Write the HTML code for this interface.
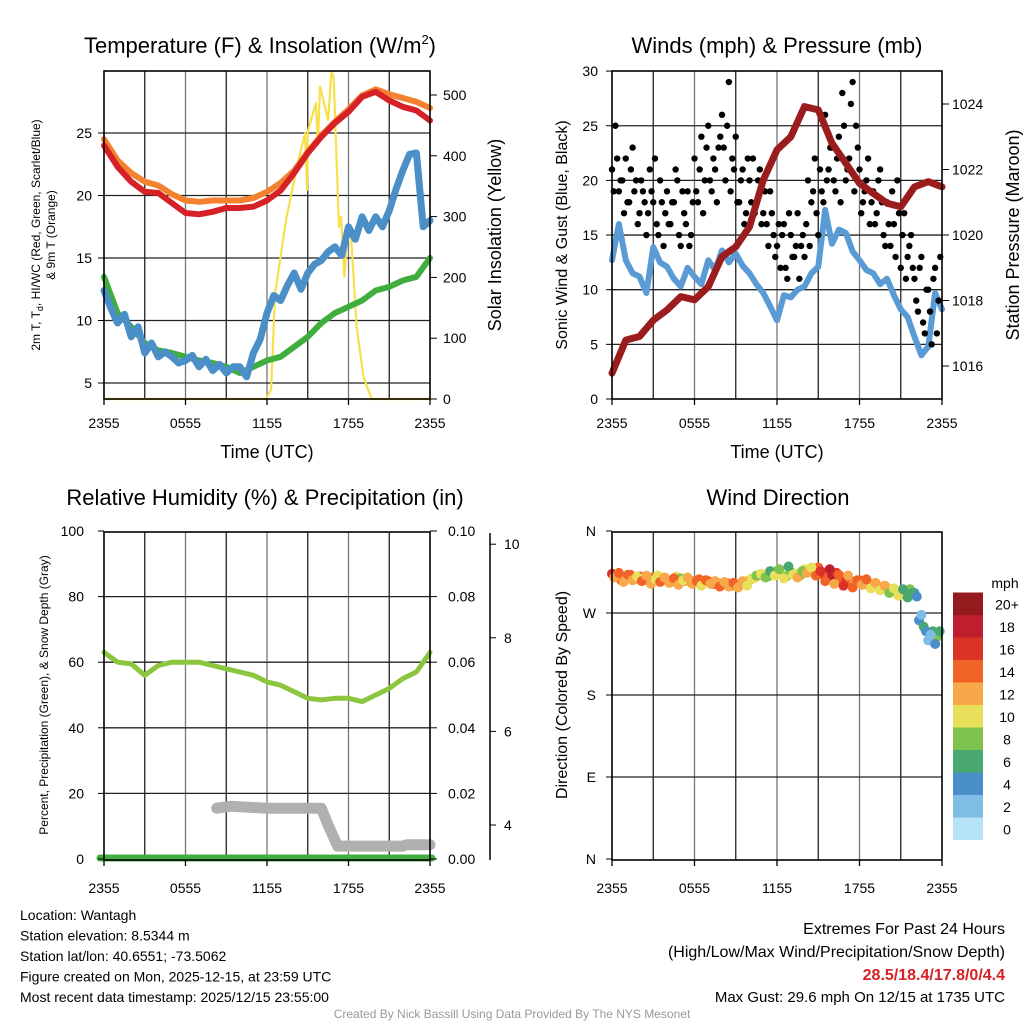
<!DOCTYPE html>
<html><head><meta charset="utf-8">
<style>
html,body{margin:0;padding:0;background:#fff;}
svg{display:block;font-family:"Liberation Sans",Arial,sans-serif;}
</style></head>
<body>
<svg id="c" width="1024" height="1024" viewBox="0 0 1024 1024"></svg>
<script>
// ---------- DATA ----------
const xTickLabels = ["2355","0555","1155","1755","2355"];
const tempRed = [24.0,22.3,21.1,20.3,20.2,19.4,18.6,18.5,18.7,19.0,19.0,19.1,19.6,20.4,21.8,23.4,24.7,25.8,26.7,27.9,28.3,27.6,27.1,26.8,26.0];
const tempOrange = [24.5,22.8,21.8,21.1,20.8,20.1,19.6,19.5,19.6,19.6,19.6,19.8,20.3,21.0,22.0,23.5,24.8,25.9,26.9,28.0,28.5,28.1,27.8,27.5,27.0];
const dewGreen = [13.5,10.6,9.5,8.2,7.6,7.4,7.1,6.8,6.6,6.3,5.8,6.3,6.8,7.1,7.9,8.7,9.8,10.6,11.1,11.6,12.4,12.7,13.2,13.5,15.0];
const hiBlue = [12.4,11,9.8,10.5,8.7,9.5,7.4,8.2,7.1,7.5,7.1,6.6,6.8,7.2,6.3,6.9,6.0,6.5,5.8,6.3,6.3,5.5,7.4,8.5,10.6,12,11.6,12.8,13.8,12.5,13.8,14.5,14.8,15.5,15.9,15.2,17.5,16.5,18.3,17.2,18.3,17.5,18.8,20.5,22,23.3,23.4,17.5,18];
const solarTimes = [0,11.9,12.3,12.6,13.4,14.2,14.8,14.95,15.0,15.6,15.75,15.9,16.5,16.75,16.9,17.3,17.45,17.7,17.9,18.2,18.6,19.1,19.7,24];
const solarVals  = [0,0,15,174,294,382,437,344,440,487,420,514,459,538,530,283,300,201,267,265,119,37,0,0];
const temp1Ticks = [5,10,15,20,25];
const solarTicks = [0,100,200,300,400,500];
const windBlue = [12.7,16.0,12.7,11.5,11.2,9.7,13.9,12.5,12.1,11.0,10.3,12.0,11.2,10.5,12.7,11.8,13.6,12.5,13.3,12.2,11.5,10.5,9.7,8.5,7.2,9.5,9.3,10.0,10.3,11.5,12.1,17.3,14.2,15.5,15.2,13.5,12.7,11.8,11.5,10.5,11.0,9.5,8.2,7.5,5.7,4.0,4.8,9.7,8.2];
const pressure = [1015.78,1016.79,1016.9,1017.4,1017.71,1018.12,1018.02,1018.42,1019.34,1019.64,1020.25,1021.68,1022.6,1023.0,1023.92,1023.82,1022.8,1022.19,1021.58,1021.27,1020.97,1020.86,1021.47,1021.63,1021.47];
const gusts = [21,25,19,20,22,18,23,20, 17,19,15,21,18,16,20,14, 19,16,18,20,14,17,19,15, 22,18,24,20,25,19,21,23,
  26,20,29,22,24,18,21,17, 20,22,18,21,17,16,19,15, 14,12,16,11,15,13,17,14, 13,20,18,22,15,19,26,21,
  23,19,24,28,20,22,29,25, 21,18,20,16,19,17,21,15, 18,14,16,20,12,17,13,15, 11,8,13,6,10,5,12,9];
const gusts2 = [19,22,20,17,18,21,19,16, 20,18,17,19,22,15,18,17, 16,18,21,15,19,16,14,18, 19,21,17,23,20,22,18,24,
  23,25,19,21,18,20,16,22, 18,17,20,16,19,14,17,13, 16,15,12,17,13,14,11,15, 16,14,19,17,21,18,20,23,
  20,22,18,25,21,27,19,23, 17,19,22,18,16,20,18,14, 16,19,13,17,15,11,14,12, 9,12,7,10,8,11,6,13];
const windTicks = [0,5,10,15,20,25,30];
const pressTicks = [1016,1018,1020,1022,1024];
const rh = [63,60,59.5,56,59,60,60,60,59,58,57,56,54,53,51,49,48.5,49,49,48,50,52,55,57,63];
const snowTimes = [8.3,9.3,12,16,16.5,17.2,22,22.3,24];
const snowVals = [4.36,4.4,4.36,4.36,4.0,3.55,3.55,3.58,3.58];
const rhTicks = [0,20,40,60,80,100];
const precipTicks = ["0.00","0.02","0.04","0.06","0.08","0.10"];
const snowTicks = [4,6,8,10];
const windDir = [313,311,306,309,312,307,310,308,305,309,311,307, 306,304,310,308,305,306,303,307,304,305,302,303,
  301,303,300,302,301,304,306,308,311,312,310,314, 316,312,310,315,313,311,318,315,316, 320,312,315,310,314,306,309,305,303,
  306,304,300,302,299,297,298,295,293, 294,290,296, 292,262,255,240,250,244];
const windDir2 = [309,314,304,312,306,310,305,311,302,307,304,309, 303,308,301,306,309,302,305,300,306,302,305,299,
  304,299,303,298,305,300,308,311,313,309,316,311, 318,308,321,312,309,316,314,320,311, 316,305,318,302,312,300,311,298,306,
  301,307,297,303,295,300,292,297,289, 296,287,292, 288,268,250,246,236,250];
const windSpd = [16,14,15,13,14,12,16,13,12,14,11,13, 14,12,10,9,12,14,13,15,12,14,16,15,
  15,14,16,12,13,14,12,11,12,13,8,9, 8,10,8,9,11,8,10,13,14, 15,17,14,19,16,15,17,14,13,
  15,13,12,13,11,12,10,11,9, 8,7,8, 5,4,6,3,7,8];
const windSpd2 = [12,15,13,14,12,11,14,12,13,11,14,12, 13,15,12,10,13,12,14,11,14,13,12,14,
  13,12,14,13,12,11,10,9,11,8,7,10, 9,11,7,10,12,9,13,11,15, 16,14,18,13,15,16,12,15,14,
  13,14,11,12,10,13,9,11,10, 7,6,7, 4,3,5,2,4,6];
const dirLabels = ["N","E","S","W","N"];
const speedLabels = ["0","2","4","6","8","10","12","14","16","18","20+"];
const speedColors = ["#b7e3f8","#7fbce6","#4a8fc8","#48a870","#7ec34e","#e8e05a","#f8a848","#f26328","#dc3328","#be1e2d","#941a1d"];

// ---------- DRAW ----------
const svg = document.getElementById('c');
const NS = "http://www.w3.org/2000/svg";
function mk(tag, attrs, parent){ const e=document.createElementNS(NS,tag); for(const k in attrs) e.setAttribute(k,attrs[k]); (parent||svg).appendChild(e); return e; }
function txt(s,x,y,size,anchor,parent,extra){ const e=mk('text',Object.assign({x:x,y:y,'font-size':size,'text-anchor':anchor||'middle',fill:'#000'},extra||{}),parent); e.textContent=s; return e; }
function panel(name,x0,y0,x1,y1){
  const g=mk('g',{});
  
  
  return {g,x0,y0,x1,y1,tx:t=>x0+t/24*(x1-x0)};
}
function grid(p,ys){
  for(let i=1;i<8;i++){ const x=p.x0+i*(p.x1-p.x0)/8; mk('line',{x1:x,y1:p.y0,x2:x,y2:p.y1,stroke:i%2?'#222':'#777','stroke-width':1.3},p.g); }
  ys.forEach(y=>mk('line',{x1:p.x0,y1:y,x2:p.x1,y2:y,stroke:'#222','stroke-width':1.3},p.g));
}
function frame(p){ mk('rect',{x:p.x0,y:p.y0,width:p.x1-p.x0,height:p.y1-p.y0,fill:'none',stroke:'#000','stroke-width':1.6},p.g); }
function xAxis(p,ly,name){
  const ax=mk('g',{},p.g);
  
  
  xTickLabels.forEach((l,i)=>{ const x=p.x0+i*(p.x1-p.x0)/4; mk('line',{x1:x,y1:p.y1,x2:x,y2:p.y1+6,stroke:'#000','stroke-width':1.3},ax); txt(l,x,ly,14,'middle',ax); });
}
function path(pts,attrs,parent){ return mk('path',Object.assign({d:'M'+pts.map(p=>p[0].toFixed(1)+','+p[1].toFixed(1)).join('L'),fill:'none','stroke-linejoin':'round','stroke-linecap':'round'},attrs),parent); }

// ===== Panel 1 =====
const p1=panel('temperature-panel',104,71,430,399);
const yT=v=>383-(v-5)*12.5, yS=v=>399-v*0.608;
grid(p1,temp1Ticks.map(yT));
let e;
e=path(solarVals.map((v,i)=>[p1.tx(solarTimes[i]),yS(v)]),{stroke:'#f7e04a','stroke-width':2.2},p1.g);
 
e=path(dewGreen.map((v,i)=>[p1.tx(i),yT(v)]),{stroke:'#3fae3f','stroke-width':6},p1.g);
 
e=path(hiBlue.map((v,i)=>[p1.tx(i/2),yT(v)]),{stroke:'#4a8fc8','stroke-width':7},p1.g);
 
e=path(tempOrange.map((v,i)=>[p1.tx(i),yT(v)]),{stroke:'#f4812f','stroke-width':6},p1.g);
 
e=path(tempRed.map((v,i)=>[p1.tx(i),yT(v)]),{stroke:'#d62127','stroke-width':6},p1.g);
 
frame(p1);
temp1Ticks.forEach(v=>{ mk('line',{x1:98,y1:yT(v),x2:104,y2:yT(v),stroke:'#000'},p1.g); txt(String(v),92,yT(v)+5,14,'end',p1.g); });
solarTicks.forEach(v=>{ mk('line',{x1:430,y1:yS(v),x2:437,y2:yS(v),stroke:'#000'},p1.g); txt(String(v),443,yS(v)+5,14,'start',p1.g); });
xAxis(p1,428,'temperature-x-axis');
e=txt('Temperature (F) & Insolation (W/m',260,53,22,'middle',p1.g);
 
{const ts=mk('tspan',{'font-size':13,dy:-9},e); ts.textContent='2'; const t2=mk('tspan',{dy:9},e); t2.textContent=')';}
e=txt('Time (UTC)',267,458,18,'middle',p1.g);
 
e=txt('2m T, T',0,0,12,'middle',p1.g,{transform:'translate(40,235) rotate(-90)'});
 
{const s=mk('tspan',{'font-size':9,dy:3},e); s.textContent='d'; const s2=mk('tspan',{dy:-3},e); s2.textContent=', HI/WC (Red, Green, Scarlet/Blue)';}
txt('& 9m T (Orange)',0,0,12,'middle',p1.g,{transform:'translate(55,235) rotate(-90)'});
e=txt('Solar Insolation (Yellow)',0,0,18,'middle',p1.g,{transform:'translate(501,235) rotate(-90)'});
 

// ===== Panel 2 =====
const p2=panel('winds-panel',612,71,942,399);
const yW=v=>399-v*10.93, yP=v=>366-(v-1016)*32.75;
grid(p2,windTicks.slice(1,6).map(yW));
e=path(windBlue.map((v,i)=>[p2.tx(i/2),yW(v)]),{stroke:'#5b9bd5','stroke-width':6},p2.g);
 
gusts.forEach((v,i)=>{ const c=mk('circle',{cx:p2.tx(i/4),cy:yW(v),r:3.2,fill:'#000'},p2.g);
    });
gusts2.forEach((v,i)=>{ const c=mk('circle',{cx:p2.tx(i/4+0.125),cy:yW(v),r:3.2,fill:'#000'},p2.g);
    });
e=path(pressure.map((v,i)=>[p2.tx(i),yP(v)]),{stroke:'#9b1c1c','stroke-width':7},p2.g);
 
frame(p2);
windTicks.forEach(v=>{ mk('line',{x1:606,y1:yW(v),x2:612,y2:yW(v),stroke:'#000'},p2.g); txt(String(v),598,yW(v)+5,14,'end',p2.g); });
pressTicks.forEach(v=>{ mk('line',{x1:942,y1:yP(v),x2:949,y2:yP(v),stroke:'#000'},p2.g); txt(String(v),952,yP(v)+5,14,'start',p2.g); });
xAxis(p2,428,'winds-x-axis');
e=txt('Winds (mph) & Pressure (mb)',777,53,22,'middle',p2.g);
 
txt('Time (UTC)',777,458,18,'middle',p2.g);
e=txt('Sonic Wind & Gust (Blue, Black)',0,0,16,'middle',p2.g,{transform:'translate(567,235) rotate(-90)'});
 
e=txt('Station Pressure (Maroon)',0,0,18,'middle',p2.g,{transform:'translate(1019,235) rotate(-90)'});
 

// ===== Panel 3 =====
const p3=panel('humidity-panel',104,532,430,860);
const yR=v=>859-v*3.28, ySn=v=>825-(v-4)*46.8;
grid(p3,rhTicks.slice(1,5).map(yR));
e=path(snowVals.map((v,i)=>[p3.tx(snowTimes[i]),ySn(v)]),{stroke:'#b0b0b0','stroke-width':11},p3.g);
 
e=path(rh.map((v,i)=>[p3.tx(i),yR(v)]),{stroke:'#8cc63f','stroke-width':5},p3.g);
 
e=mk('line',{x1:100,y1:858,x2:432,y2:858,stroke:'#3fae3f','stroke-width':7,'stroke-linecap':'round'},p3.g);
 
frame(p3);
rhTicks.forEach(v=>{ mk('line',{x1:98,y1:yR(v),x2:104,y2:yR(v),stroke:'#000'},p3.g); txt(String(v),84,yR(v)+5,14,'end',p3.g); });
precipTicks.forEach((l,i)=>{ const y=yR(i*20); mk('line',{x1:430,y1:y,x2:437,y2:y,stroke:'#000'},p3.g); txt(l,448,y+5,14,'start',p3.g); });
mk('line',{x1:490,y1:533,x2:490,y2:860,stroke:'#000','stroke-width':1.5},p3.g);
snowTicks.forEach(v=>{ mk('line',{x1:490,y1:ySn(v),x2:496,y2:ySn(v),stroke:'#000'},p3.g); txt(String(v),504,ySn(v)+5,14,'start',p3.g); });
xAxis(p3,893,'humidity-x-axis');
e=txt('Relative Humidity (%) & Precipitation (in)',265,505,22,'middle',p3.g);
 
e=txt('Percent, Precipitation (Green), & Snow Depth (Gray)',0,0,12,'middle',p3.g,{transform:'translate(48,695) rotate(-90)'});
 

// ===== Panel 4 =====
const p4=panel('wind-direction-panel',612,532,942,860);
const yD=v=>859-v/360*328;
grid(p4,[90,180,270].map(yD));
function dirPts(dirs,spds,off){
  dirs.forEach((v,i)=>{ const idx=Math.min(10,Math.floor(spds[i]/2));
    const c=mk('circle',{cx:p4.tx(i/3+off),cy:yD(v),r:5,fill:speedColors[idx]},p4.g);
    
     });
}
dirPts(windDir,windSpd,0);
dirPts(windDir2,windSpd2,1/6);
frame(p4);
dirLabels.forEach((l,i)=>{ const y=yD(i*90); mk('line',{x1:606,y1:y,x2:612,y2:y,stroke:'#000'},p4.g); txt(l,596,y+5,14,'end',p4.g); });
xAxis(p4,893,'wind-direction-x-axis');
e=txt('Wind Direction',778,505,22,'middle',p4.g);
 
e=txt('Direction (Colored By Speed)',0,0,16,'middle',p4.g,{transform:'translate(567,695) rotate(-90)'});
 
const cb=mk('g',{});
 
txt('mph',1005,588,14,'middle',cb);
speedColors.forEach((c,i)=>{ const y=817.5-i*22.5; mk('rect',{x:953,y:y,width:30,height:22.5,fill:c},cb); txt(speedLabels[i],1007,y+17,14,'middle',cb); });

// ===== Footer =====
const f=mk('g',{});
 
["Location: Wantagh","Station elevation: 8.5344 m","Station lat/lon: 40.6551; -73.5062","Figure created on Mon, 2025-12-15, at 23:59 UTC","Most recent data timestamp: 2025/12/15 23:55:00"].forEach((s,i)=>txt(s,20,920+i*20.5,14,'start',f));
const ex=mk('g',{});
 
txt('Extremes For Past 24 Hours',1005,934,16,'end',ex);
txt('(High/Low/Max Wind/Precipitation/Snow Depth)',1005,957,16,'end',ex);
txt('28.5/18.4/17.8/0/4.4',1005,980,16,'end',ex,{fill:'#d62127','font-weight':'bold'});
txt('Max Gust: 29.6 mph On 12/15 at 1735 UTC',1005,1002,15,'end',ex);
e=txt('Created By Nick Bassill Using Data Provided By The NYS Mesonet',512,1018,12,'middle',svg,{fill:'#999'});
 
</script>
</body></html>
